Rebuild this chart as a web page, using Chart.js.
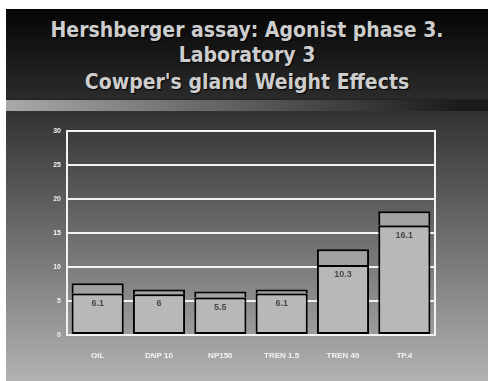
<!DOCTYPE html>
<html>
<head>
<meta charset="utf-8">
<script src="https://cdn.jsdelivr.net/npm/chart.js@4"></script>
<style>
  html, body { margin: 0; padding: 0; background: #fff; }
  body { width: 488px; height: 381px; position: relative; overflow: hidden; }
  .slide { position: absolute; left: 6px; top: 9px; right: 0; bottom: 0; }
  .header {
    position: absolute; left: 0; top: 0; right: 0; height: 90px;
    background: linear-gradient(to bottom, #050505, #2b2b2b);
  }
  .header div {
    position: absolute; left: 0; right: 0; text-align: center;
    font-family: "Liberation Sans Narrow", "DejaVu Sans Condensed", sans-serif;
    font-weight: bold; font-size: 21px; color: #cdcdcd;
    text-shadow: 1px 1px 1px #000;
    line-height: 26px;
  }
  .strip {
    position: absolute; left: 0; top: 90px; right: 0; height: 12px;
    background: linear-gradient(to right, #a9a9a9, #6a6a6a 40%, #1a1a1a 95%);
    border-top: 1px solid #222;
  }
  .body {
    position: absolute; left: 0; top: 102px; right: 0; bottom: 0;
    background: linear-gradient(to bottom, #323232, #b2b2b2);
  }
  #wrap { position: absolute; left: 0; top: 111px; width: 488px; height: 270px; }
</style>
</head>
<body>
<div class="slide">
  <div class="header">
    <div style="top:8px">Hershberger assay: Agonist phase 3.</div>
    <div style="top:33px">Laboratory 3</div>
    <div style="top:60px">Cowper's gland Weight Effects</div>
  </div>
  <div class="strip"></div>
  <div class="body"></div>
</div>
<div id="wrap"><canvas id="chart"></canvas></div>
<script>
// groups and mean weights (labels inside bars)
const groups = ["OIL", "DNP 10", "NP150", "TREN 1.5", "TREN 40", "TP.4"];
const means = [6.1, 6, 5.5, 6.1, 10.3, 16.1];
// standard deviation box stacked on top
const sds = [1.5, 0.7, 0.9, 0.6, 2.3, 2.1];
const yTicks = [0, 5, 10, 15, 20, 25, 30];

// label inside each mean bar + right border line
const barLabels = {
  id: "barLabels",
  afterDatasetsDraw(chart) {
    const { ctx } = chart;
    const meta = chart.getDatasetMeta(0);
    ctx.save();
    ctx.font = "bold 9px 'Liberation Sans', Arial, sans-serif";
    ctx.fillStyle = "#4a4a4a";
    ctx.textAlign = "center";
    ctx.textBaseline = "top";
    meta.data.forEach((bar, i) => {
      ctx.fillText(String(means[i]), bar.x, bar.y + 5);
    });
    ctx.restore();
  },
  beforeDatasetsDraw(chart) {
    const { ctx, chartArea } = chart;
    ctx.save();
    ctx.strokeStyle = "#f2f2f2";
    ctx.lineWidth = 2;
    ctx.beginPath();
    ctx.moveTo(chartArea.right, chartArea.top - 1);
    ctx.lineTo(chartArea.right, chartArea.bottom + 1);
    ctx.stroke();
    ctx.restore();
  }
};

new Chart(document.getElementById("chart"), {
  type: "bar",
  data: {
    labels: groups,
    datasets: [
      {
        data: means,
        backgroundColor: "#b8b8b8",
        borderColor: "#000",
        borderWidth: 2,
        borderSkipped: false,
        barPercentage: 0.85,
        categoryPercentage: 1
      },
      {
        data: sds,
        backgroundColor: "#a2a2a2",
        borderColor: "#000",
        borderWidth: 2,
        borderSkipped: "bottom",
        barPercentage: 0.85,
        categoryPercentage: 1
      }
    ]
  },
  options: {
    responsive: true,
    maintainAspectRatio: false,
    animation: false,
    layout: { padding: { top: 20, right: 53, left: 0, bottom: 0 } },
    plugins: {
      legend: { display: false },
      tooltip: { enabled: false }
    },
    scales: {
      x: {
        stacked: true,
        grid: { display: false },
        border: { display: false },
        ticks: {
          color: "#f4f4f4",
          font: { size: 8, weight: "bold", family: "'Liberation Sans', Arial, sans-serif" },
          padding: 8,
          maxRotation: 0
        },
        afterFit(scale) { scale.height = 46; }
      },
      y: {
        stacked: true,
        min: 0,
        max: 30,
        afterBuildTicks(scale) { scale.ticks = yTicks.map(v => ({ value: v })); },
        grid: { color: "#f2f2f2", lineWidth: 2, drawTicks: false },
        border: { display: true, color: "#f2f2f2", width: 2 },
        ticks: {
          color: "#f4f4f4",
          font: { size: 7, weight: "bold", family: "'Liberation Sans', Arial, sans-serif" },
          padding: 6
        },
        afterFit(scale) { scale.width = 67; }
      }
    }
  },
  plugins: [barLabels]
});
</script>
</body>
</html>
